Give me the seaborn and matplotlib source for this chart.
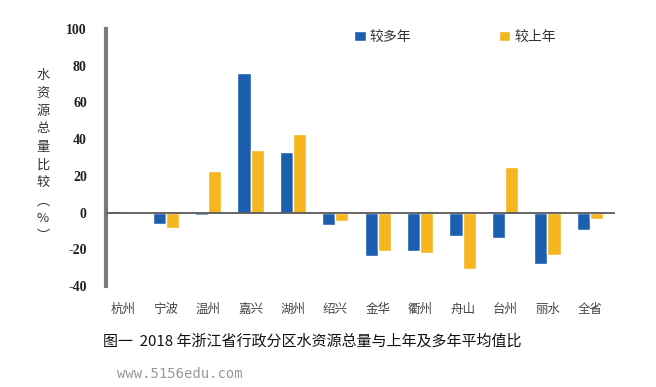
import matplotlib
matplotlib.use("Agg")
import matplotlib.pyplot as plt
import seaborn as sns
import pandas as pd

cities = ["杭州", "宁波", "温州", "嘉兴", "湖州", "绍兴", "金华", "衢州", "舟山", "台州", "丽水", "全省"]
vs_multi_year = [1.0, -6.0, -1.5, 76.0, 33.0, -6.5, -23.5, -21.0, -13.0, -14.0, -28.0, -9.5]
vs_last_year = [0.0, -8.5, 22.5, 34.0, 43.0, -4.5, -21.0, -22.0, -30.5, 25.0, -23.0, -3.5]
series_names = ["较多年", "较上年"]
yticks = [-40, -20, 0, 20, 40, 60, 80, 100]
ylabel_chars = ["水", "资", "源", "总", "量", "比", "较", "︵", "%", "︶"]

df = pd.DataFrame({
	"city": cities * 2,
	"series": [series_names[0]] * len(cities) + [series_names[1]] * len(cities),
	"value": vs_multi_year + vs_last_year,
})

sns.set_style("white")
plt.rcParams['font.family'] = ['Noto Sans CJK SC', 'DejaVu Sans']

W, H = 656, 387
fig = plt.figure(figsize=(W / 100, H / 100), dpi=100)
ax = fig.add_axes([0.162, 0.261, 0.776, 0.664])

palette = {"较多年": "#1b5fae", "较上年": "#f5b61f"}
sns.barplot(data=df, x="city", y="value", hue="series", palette=palette,
			width=0.62, saturation=1, ax=ax, legend=True)

ax.set_ylim(-40, 100)
ax.set_xlim(-0.4, 11.6)
ax.set_yticks(yticks)
ax.set_yticklabels([str(t) for t in yticks], family="Liberation Serif", fontsize=10,
				   color="#222222", fontweight="bold")
ax.axhline(0, color="#595959", lw=1.3, zorder=3)

for s in ["top", "right", "bottom"]:
	ax.spines[s].set_visible(False)
ax.spines["left"].set_color("#7a7a7a")
ax.spines["left"].set_linewidth(3)
ax.tick_params(axis="y", direction="in", length=5, width=3, color="#7a7a7a", pad=14)
ax.tick_params(axis="x", length=0, pad=12)
ax.set_xticks(range(len(cities)))
ax.set_xticklabels(cities, fontsize=9, color="#444444")
ax.set_xlabel("")
ax.set_ylabel("")

# vertical y-axis title, one character per line
for i, ch in enumerate(ylabel_chars):
	fig.text(43 / W, 1 - (75 + 18 * i) / H, ch, ha="center", va="center",
			 fontsize=9.5, color="#333333")

leg = ax.legend(loc="upper left", bbox_to_anchor=(0.463, 1.045), ncol=2, frameon=False,
				fontsize=10, handlelength=0.8, handleheight=0.8, handletextpad=0.3,
				columnspacing=6.3)
for t in leg.get_texts():
	t.set_color("#333333")

fig.text(0.476, 0.117, "图一  2018 年浙江省行政分区水资源总量与上年及多年平均值比",
		 ha="center", va="center", fontsize=10.8, color="#111111")
fig.text(0.179, 0.033, "www.5156edu.com", ha="left", va="center", fontsize=10,
		 color="#999999", family="DejaVu Sans Mono")

fig.savefig("out.png", dpi=100)
